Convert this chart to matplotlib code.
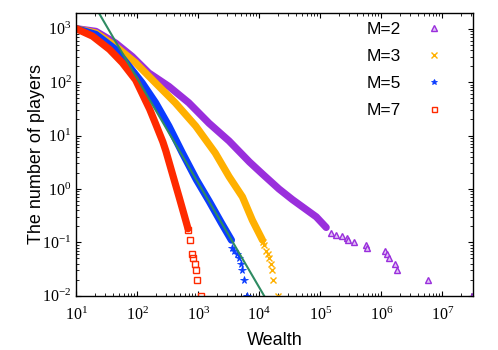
import matplotlib
matplotlib.use("Agg")
import matplotlib.pyplot as plt
from matplotlib.ticker import NullFormatter

# tick labels in a Times-like serif, axis labels and legend in sans
plt.rcParams["font.family"] = "serif"
plt.rcParams["font.serif"] = ["Liberation Serif", "DejaVu Serif"]
plt.rcParams["mathtext.fontset"] = "custom"
plt.rcParams["mathtext.rm"] = "Liberation Serif"
plt.rcParams["mathtext.it"] = "Liberation Serif:italic"

# Dense part of each curve
m2_x = [10, 21, 44, 83, 155, 330, 700, 1500, 3200, 6900, 1.13e4, 2.1e4, 3.5e4, 8.6e4, 1.25e5]
m2_y = [1000, 890, 540, 300, 148, 83, 41, 17, 7.9, 3.2, 1.9, 1.0, 0.63, 0.30, 0.19]
m3_x = [10, 21, 44, 94, 200, 420, 910, 1900, 3200, 5300, 7700, 1.13e4]
m3_y = [1000, 830, 470, 230, 96, 41, 15, 4.7, 1.7, 0.71, 0.26, 0.11]
m5_x = [10, 21, 44, 74, 121, 200, 330, 550, 930, 1520, 2400, 3500]
m5_y = [1000, 780, 410, 195, 96, 41, 15, 4.7, 1.5, 0.58, 0.23, 0.11]
m7_x = [10, 18.5, 35, 57, 94, 138, 160, 200, 263, 295, 380, 490, 600, 680]
m7_y = [1000, 725, 410, 230, 110, 44, 31, 16.6, 7.6, 5.1, 1.86, 0.68, 0.30, 0.18]

# Sparse tails, drawn as single markers
m2_tail_x = [1.5e5, 1.8e5, 2.3e5, 2.7e5, 2.8e5, 3.6e5, 5.7e5, 5.9e5,
             1.16e6, 1.25e6, 1.35e6, 1.7e6, 1.8e6, 5.9e6, 3.1e7]
m2_tail_y = [0.15, 0.14, 0.13, 0.12, 0.11, 0.1, 0.09, 0.08,
             0.07, 0.06, 0.05, 0.04, 0.03, 0.02, 0.01]
m3_tail_x = [1.15e4, 1.2e4, 1.3e4, 1.4e4, 1.47e4, 1.57e4, 1.64e4, 1.7e4, 2.0e4]
m3_tail_y = [0.1, 0.09, 0.07, 0.06, 0.05, 0.04, 0.03, 0.02, 0.01]
m5_tail_x = [3600, 3900, 4300, 4700, 5100, 5300, 5700, 6400]
m5_tail_y = [0.08, 0.07, 0.06, 0.05, 0.04, 0.03, 0.02, 0.01]
m7_tail_x = [680, 730, 780, 810, 870, 930, 940, 1100]
m7_tail_y = [0.17, 0.11, 0.06, 0.05, 0.04, 0.03, 0.02, 0.01]

# power-law fit line
fit_x = [20, 12000]
fit_y = [2700, 0.01]

labels = ["M=2", "M=3", "M=5", "M=7"]
x_ticks = [1e1, 1e2, 1e3, 1e4, 1e5, 1e6, 1e7]
y_ticks = [1e-2, 1e-1, 1e0, 1e1, 1e2, 1e3]

purple = "#9a2fdc"
orange = "#ffb000"
blue = "#0a3cff"
red = "#ff2a00"
green = "#2e8b62"

fig = plt.figure(figsize=(4.98, 3.5), dpi=100)
ax = fig.add_axes([0.152, 0.155, 0.798, 0.809])

ax.plot(m2_x, m2_y, color=purple, lw=5.2, solid_capstyle="round")
ax.plot(m3_x, m3_y, color=orange, lw=5.2, solid_capstyle="round")
ax.plot(m5_x, m5_y, color=blue, lw=5.2, solid_capstyle="round")
ax.plot(m7_x, m7_y, color=red, lw=5.2, solid_capstyle="round")

h2, = ax.plot(m2_tail_x, m2_tail_y, ls="none", marker="^", ms=5, mfc="#e2c4f5",
              mec=purple, mew=1, label=labels[0])
h3, = ax.plot(m3_tail_x, m3_tail_y, ls="none", marker="x", ms=5, color=orange,
              mew=1, label=labels[1])
h5, = ax.plot(m5_tail_x, m5_tail_y, ls="none", marker="*", ms=5.5, color=blue,
              mew=0.6, label=labels[2])
h7, = ax.plot(m7_tail_x, m7_tail_y, ls="none", marker="s", ms=4.5, mfc="none",
              mec=red, mew=1, label=labels[3])

ax.plot(fit_x, fit_y, color=green, lw=1.5)

ax.set_xscale("log")
ax.set_yscale("log")
ax.set_xticks(x_ticks)
ax.set_yticks(y_ticks)
ax.set_xlim(9.8, 3.2e7)
ax.set_ylim(0.01, 2000)
ax.xaxis.set_minor_formatter(NullFormatter())
ax.yaxis.set_minor_formatter(NullFormatter())

ax.tick_params(which="both", direction="in", top=True, right=True, labelsize=11.5)
ax.tick_params(which="major", length=3.5, width=0.8)
ax.tick_params(which="minor", length=2, width=0.6)
ax.tick_params(axis="x", pad=8)
ax.tick_params(axis="y", pad=3)
for s in ax.spines.values():
    s.set_linewidth(1)

ax.set_xlabel("Wealth", family="Liberation Sans", fontsize=13, labelpad=6)
ax.set_ylabel("The number of players", family="Liberation Sans", fontsize=13, labelpad=-2)

ax.legend(handles=[h2, h3, h5, h7], loc="upper right", bbox_to_anchor=(0.968, 1.021),
          frameon=False, markerfirst=False, handlelength=1.2, handletextpad=1.3,
          labelspacing=0.67, prop={"family": "Liberation Sans", "size": 12.5},
          markerscale=0.8)

fig.savefig("out.png", dpi=100)
